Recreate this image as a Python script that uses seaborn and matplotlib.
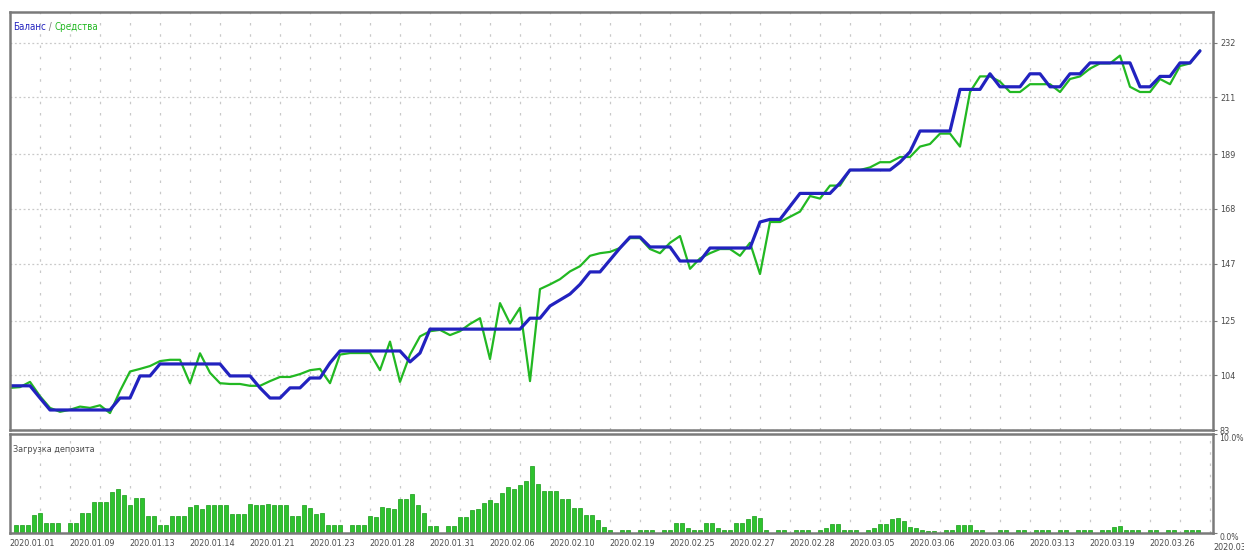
import numpy as np
import pandas as pd
import matplotlib
matplotlib.use("Agg")
import matplotlib.pyplot as plt
import seaborn as sns
from matplotlib.transforms import ScaledTranslation

# ---------------- data ----------------
balance = [100, 100, 100, 95.3, 90.7, 90.7, 90.7, 90.7, 90.7, 90.7,
           90.7, 95.3, 95.3, 103.8, 103.8, 108.4, 108.4, 108.4, 108.4, 108.4,
           108.4, 108.4, 103.8, 103.8, 103.8, 99.2, 95.3, 95.3, 99.2, 99.2,
           103, 103, 108.8, 113.4, 113.4, 113.4, 113.4, 113.4, 113.4, 113.4,
           109.2, 112.6, 121.8, 121.8, 121.8, 121.8, 121.8, 121.8, 121.8, 121.8,
           121.8, 121.8, 126, 126, 130.7, 133, 135.3, 139, 143.8, 143.8,
           148.4, 153, 157.2, 157.2, 153.4, 153.4, 153.4, 148, 148, 148,
           153, 153, 153, 153, 153, 163, 164, 164, 169, 174,
           174, 174, 174, 178, 183, 183, 183, 183, 183, 186,
           190, 198, 198, 198, 198, 214, 214, 214, 220, 215,
           215, 215, 220, 220, 215, 215, 220, 220, 224.2, 224.2,
           224.2, 224.2, 224.2, 215, 215, 219, 219, 224.2, 224.2, 228.8]

equity = [99.2, 99.5, 101.5, 96, 91.5, 90, 90.8, 92, 91.5, 92.5,
          89.5, 98, 105.5, 106.5, 107.6, 109.5, 110, 110, 101, 112.5,
          105, 101, 100.7, 100.7, 100, 100, 101.8, 103.4, 103.4, 104.5,
          106, 106.5, 101, 112, 112.6, 112.6, 112.6, 106, 117, 101.5,
          112, 119, 121, 121.5, 119.5, 121, 123.8, 126, 110.3, 131.8,
          124, 130, 101.8, 137.2, 139, 141, 144, 146, 150, 151,
          151.5, 153, 156.8, 156.8, 152.6, 151, 155, 157.6, 145, 149,
          151, 152.6, 152.6, 150, 155, 143, 163, 163, 165, 167,
          173, 172, 177, 177, 183, 183, 184, 186, 186, 188,
          188, 192, 193, 197, 197, 192, 213, 219, 219, 217,
          213, 213, 216, 216, 216, 213, 218, 219, 222, 224,
          224, 227, 215, 213, 213, 218, 216, 223, 224, 229]

deposit_load = [0.8, 0.8, 0.8, 1.8, 2.0, 1.0, 1.0, 1.0, 0, 1.0,
                1.0, 2.0, 2.0, 3.1, 3.1, 3.1, 4.1, 4.4, 3.8, 2.8,
                3.5, 3.5, 1.7, 1.7, 0.8, 0.8, 1.7, 1.7, 1.7, 2.6,
                2.8, 2.4, 2.8, 2.8, 2.8, 2.8, 1.9, 1.9, 1.9, 2.9,
                2.8, 2.8, 2.9, 2.8, 2.8, 2.8, 1.7, 1.7, 2.8, 2.5,
                1.9, 2.0, 0.8, 0.8, 0.8, 0, 0.8, 0.8, 0.8, 1.7,
                1.6, 2.6, 2.5, 2.4, 3.4, 3.4, 3.9, 2.8, 2.0, 0.7,
                0.7, 0, 0.7, 0.7, 1.6, 1.6, 2.3, 2.4, 3.0, 3.3,
                3.0, 4.0, 4.6, 4.4, 4.8, 5.3, 6.8, 4.9, 4.2, 4.2,
                4.2, 3.4, 3.4, 2.5, 2.5, 1.8, 1.8, 1.3, 0.6, 0.3,
                0, 0.3, 0.3, 0, 0.3, 0.3, 0.3, 0, 0.3, 0.3,
                1.0, 1.0, 0.5, 0.3, 0.3, 1.0, 1.0, 0.5, 0.3, 0.3,
                1.0, 1.0, 1.4, 1.7, 1.5, 0.3, 0, 0.3, 0.3, 0,
                0.3, 0.3, 0.3, 0, 0.3, 0.5, 0.9, 0.9, 0.3, 0.3,
                0.3, 0, 0.3, 0.5, 0.9, 0.9, 1.4, 1.5, 1.2, 0.6,
                0.5, 0.3, 0.2, 0.2, 0, 0.3, 0.3, 0.8, 0.8, 0.8,
                0.3, 0.3, 0, 0, 0.3, 0.3, 0, 0.3, 0.3, 0,
                0.3, 0.3, 0.3, 0, 0.3, 0.3, 0, 0.3, 0.3, 0.3,
                0, 0.3, 0.3, 0.6, 0.7, 0.3, 0.3, 0.3, 0, 0.3,
                0.3, 0, 0.3, 0.3, 0, 0.3, 0.3, 0.3]

date_labels = ["2020.01.01", "2020.01.09", "2020.01.13", "2020.01.14", "2020.01.21",
               "2020.01.23", "2020.01.28", "2020.01.31", "2020.02.06", "2020.02.10",
               "2020.02.19", "2020.02.25", "2020.02.27", "2020.02.28", "2020.03.05",
               "2020.03.06", "2020.03.06", "2020.03.13", "2020.03.19", "2020.03.26"]
last_label = "2020.03.31"

y_ticks = [83, 104, 125, 147, 168, 189, 211, 232]
load_ticks = [0, 10]
load_tick_labels = ["0.0%", "10.0%"]

legend_balance = "Баланс"
legend_sep = " / "
legend_equity = "Средства"
load_title = "Загрузка депозита"

# ---------------- style ----------------
sns.set_style("white")
plt.rcParams["font.family"] = ["DejaVu Sans"]
plt.rcParams["font.stretch"] = "condensed"

BLUE = "#2222bf"
GREEN = "#22b822"
BAR = "#2ec22e"
BAR_EDGE = "#159a15"
FRAME = "#7a7a7a"
GRID = "#c9c9c9"
TXT = "#4a4a4a"

W, H = 1244, 550
fig = plt.figure(figsize=(W / 100, H / 100), dpi=100)
ax = fig.add_axes([10 / W, (H - 430) / H, 1203 / W, 418 / H])
axl = fig.add_axes([10 / W, (H - 533) / H, 1203 / W, 99 / H])

# ---------------- main panel ----------------
df = pd.DataFrame({"trade": np.arange(len(balance)),
                   "balance": balance, "equity": equity})
sns.lineplot(data=df, x="trade", y="equity", ax=ax, color=GREEN, linewidth=1.6,
             estimator=None, errorbar=None)
sns.lineplot(data=df, x="trade", y="balance", ax=ax, color=BLUE, linewidth=2.3,
             estimator=None, errorbar=None)

n = len(balance)
ax.set_xlim(0, (n - 1) * 1203 / 1190)
ax.set_ylim(83, 83 + 418 / 2.6)
ax.set_xticks(np.arange(3, n, 3))
ax.set_yticks(y_ticks)
ax.set_yticklabels([str(v) for v in y_ticks])
ax.yaxis.tick_right()
ax.tick_params(axis="y", direction="out", length=3, width=0.8, color=FRAME,
               labelsize=6.5, labelcolor=TXT, pad=2)
ax.tick_params(axis="x", length=0, labelbottom=False)
ax.xaxis.grid(True, linestyle=(0, (2, 7)), color=GRID, linewidth=0.9)
ax.yaxis.grid(True, linestyle=(0, (1.5, 2)), color=GRID, linewidth=0.9)
ax.set_xlabel("")
ax.set_ylabel("")
for s in ax.spines.values():
    s.set_color(FRAME)
    s.set_linewidth(1.8)

t1 = ax.text(3 / 1203, 1 - 15 / 418, legend_balance, transform=ax.transAxes,
             color=BLUE, fontsize=7, va="center", ha="left")
t2 = ax.annotate(legend_sep, xy=(1, 0.5), xycoords=t1, va="center", ha="left",
                 color="#777777", fontsize=7)
ax.annotate(legend_equity, xy=(1, 0.5), xycoords=t2, va="center", ha="left",
            color=GREEN, fontsize=7)

# ---------------- deposit load panel ----------------
nb = len(deposit_load)
dl = pd.DataFrame({"bar": np.arange(nb), "load": deposit_load})
sns.barplot(data=dl, x="bar", y="load", ax=axl, color=BAR, width=0.82,
            edgecolor=BAR_EDGE, linewidth=0.5, saturation=1, errorbar=None)
axl.set_xlim(-1, -1 + 1203 / 6)
axl.set_ylim(0, 10)
major = np.arange(4, 4 + 10 * len(date_labels), 10)
axl.set_xticks(major)
axl.set_xticks(np.arange(4, 200, 5), minor=True)
axl.set_xticklabels(date_labels)
axl.xaxis.grid(True, which="both", linestyle=(0, (2, 7)), color=GRID, linewidth=0.9)
axl.yaxis.grid(False)
axl.tick_params(axis="x", which="major", direction="out", length=3, width=0.8,
                color="#555555", labelsize=6.5, labelcolor=TXT, pad=1.5)
axl.tick_params(axis="x", which="minor", length=0)
shift = ScaledTranslation(-8 / 100, 0, fig.dpi_scale_trans)
for lab in axl.get_xticklabels():
    lab.set_transform(lab.get_transform() + shift)
axl.set_yticks(load_ticks)
axl.set_yticklabels(load_tick_labels)
axl.yaxis.tick_right()
axl.tick_params(axis="y", direction="out", length=3, width=0.8, color=FRAME,
                labelsize=6.2, labelcolor=TXT, pad=1.5)
for lab in axl.get_yticklabels():
    lab.set_verticalalignment("top")
axl.set_xlabel("")
axl.set_ylabel("")
for s in axl.spines.values():
    s.set_color(FRAME)
    s.set_linewidth(1.8)

axl.text(3 / 1203, 1 - 15 / 99, load_title, transform=axl.transAxes,
         color=TXT, fontsize=6.5, va="center", ha="left")

fig.text(1236 / W, (H - 547) / H, last_label, fontsize=6.5, color=TXT,
         ha="center", va="center")

fig.savefig("out.png", dpi=100, facecolor="white")
